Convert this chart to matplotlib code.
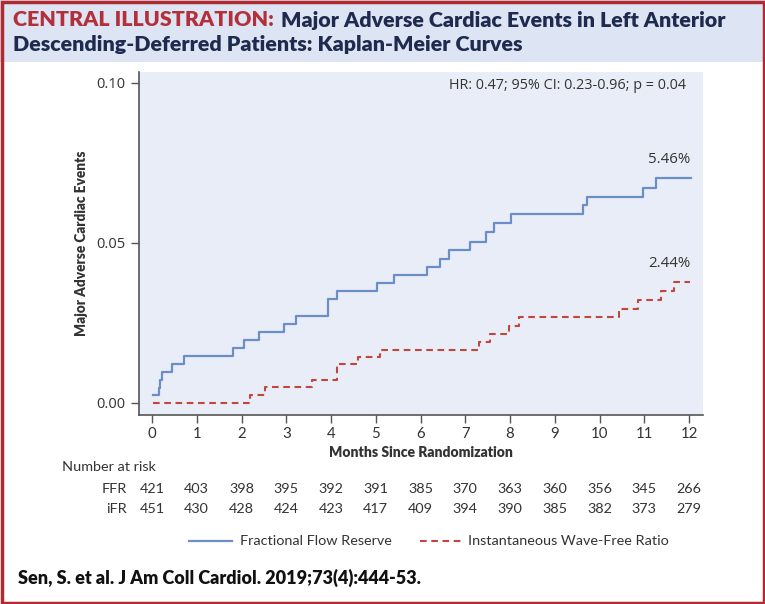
import matplotlib
matplotlib.use("Agg")
import matplotlib.pyplot as plt
from matplotlib.patches import Rectangle
from matplotlib.lines import Line2D
import matplotlib.transforms as mtransforms

plt.rcParams['font.family'] = ['Lato', 'DejaVu Sans']

# step curves (months, cumulative event rate)
ffr_t = [0.03, 0.16, 0.19, 0.22, 0.45, 0.72, 1.80, 2.06, 2.39, 2.95, 3.21, 3.94, 4.13,
         5.02, 5.41, 6.14, 6.44, 6.64, 7.11, 7.46, 7.63, 8.02, 9.62, 9.71, 10.97, 11.26, 12.04]
ffr_v = [0.0025, 0.0046, 0.0072, 0.0098, 0.0122, 0.0147, 0.0173, 0.0197, 0.0222, 0.0247,
         0.0273, 0.0324, 0.0350, 0.0375, 0.0401, 0.0426, 0.0451, 0.0478, 0.0504, 0.0534,
         0.0561, 0.0590, 0.0617, 0.0645, 0.0673, 0.0703, 0.0703]
ifr_t = [0.03, 2.19, 2.53, 3.58, 4.13, 4.60, 5.09, 7.31, 7.55, 7.98, 8.21, 10.44, 10.85,
         11.37, 11.66, 12.02]
ifr_v = [0.0, 0.0025, 0.0049, 0.0072, 0.0122, 0.0145, 0.0165, 0.0191, 0.0217, 0.0242,
         0.0268, 0.0295, 0.0322, 0.0350, 0.0379, 0.0379]

months = list(range(13))
ffr_risk = [421, 403, 398, 395, 392, 391, 385, 370, 363, 360, 356, 345, 266]
ifr_risk = [451, 430, 428, 424, 423, 417, 409, 394, 390, 385, 382, 373, 279]
yticks = [0.00, 0.05, 0.10]

blue = '#6b8ec6'
red = '#c0473d'
navy = '#1e2a4e'
dark = '#333333'
fs = 10.4

W, H = 765, 604
fig = plt.figure(figsize=(W / 100, H / 100), dpi=100)

# frame and title band
fig.patches.append(Rectangle((0, 1 - 62 / H), 1, 62 / H, transform=fig.transFigure,
                             facecolor='#dde4f3', edgecolor='none', zorder=0))
fig.patches.append(Rectangle((1.5 / W, 1.5 / H), 1 - 3 / W, 1 - 3 / H, transform=fig.transFigure,
                             facecolor='none', edgecolor='#b02a30', linewidth=2.5, zorder=5))

tfs = 15.4
t1 = fig.text(13 / W, 1 - 20 / H, 'CENTRAL ILLUSTRATION:', color='#b3303a', fontsize=tfs,
              fontweight='heavy', va='center', ha='left')
fig.canvas.draw()
r = fig.canvas.get_renderer()
bb = t1.get_window_extent(r)
fig.text((bb.x1 + 7) / W, 1 - 20 / H, 'Major Adverse Cardiac Events in Left Anterior',
         color=navy, fontsize=tfs, fontweight='heavy', va='center', ha='left')
fig.text(13 / W, 1 - 44 / H, 'Descending-Deferred Patients: Kaplan-Meier Curves',
         color=navy, fontsize=tfs, fontweight='heavy', va='center', ha='left')

ax = fig.add_axes([139 / W, 1 - 415 / H, 564 / W, 343 / H])
ax.set_facecolor('#e9edf7')
ax.step(ffr_t, ffr_v, where='post', color=blue, lw=1.6)
ax.step(ifr_t, ifr_v, where='post', color=red, lw=1.5, dashes=(3.2, 2.2))

ax.set_xlim(-0.29, 12.31)
ax.set_ylim(-0.00375, 0.1034)
ax.set_xticks(months)
ax.set_yticks(yticks)
ax.set_yticklabels(['%.2f' % v for v in yticks], family='Open Sans', fontsize=10.5, color=dark)
ax.set_xticklabels([str(m) for m in months], fontsize=10.8, color=dark)
ax.spines.top.set(visible=False)
ax.spines.right.set(visible=False)
ax.spines.left.set(color='#555555', lw=1.2)
ax.spines.bottom.set(color='#555555', lw=1.2)
ax.tick_params(length=6, color='#555555', width=1)
ax.tick_params(axis='x', pad=3)
ax.set_xlabel('Months Since Randomization', fontsize=10, fontweight='heavy', color=dark, labelpad=3)
ax.set_ylabel('Major Adverse Cardiac Events', fontsize=9.8, fontweight='heavy', color=dark, labelpad=6)

ax.text(11.93, 0.0993, 'HR: 0.47; 95% CI: 0.23-0.96; p = 0.04', ha='right', va='center',
        family='Open Sans', fontsize=10.4, color=dark)
ax.text(12.02, 0.0737, '5.46%', ha='right', va='bottom', family='Open Sans', fontsize=10.8, color=dark)
ax.text(12.02, 0.0412, '2.44%', ha='right', va='bottom', family='Open Sans', fontsize=10.8, color=dark)

# number at risk table
tr = mtransforms.blended_transform_factory(ax.transData, fig.transFigure)
fig.text(62 / W, 1 - 467 / H, 'Number at risk', fontsize=fs, color=dark, va='center', ha='left')
fig.text(127 / W, 1 - 489 / H, 'FFR', fontsize=fs, color=dark, va='center', ha='right')
fig.text(127 / W, 1 - 509 / H, 'iFR', fontsize=fs, color=dark, va='center', ha='right')
for m, a, b in zip(months, ffr_risk, ifr_risk):
    ax.text(m, 1 - 489 / H, str(a), transform=tr, ha='center', va='center', fontsize=fs, color=dark)
    ax.text(m, 1 - 509 / H, str(b), transform=tr, ha='center', va='center', fontsize=fs, color=dark)

# legend
ly = 1 - 541 / H
fig.lines.append(Line2D([189 / W, 232 / W], [ly, ly], transform=fig.transFigure, color=blue, lw=1.6))
fig.text(240 / W, ly, 'Fractional Flow Reserve', fontsize=fs, color=dark, va='center', ha='left')
fig.lines.append(Line2D([420 / W, 462 / W], [ly, ly], transform=fig.transFigure, color=red, lw=1.5,
                        dashes=(3.2, 2.2)))
fig.text(468 / W, ly, 'Instantaneous Wave-Free Ratio', fontsize=fs, color=dark, va='center', ha='left')

fig.text(18 / W, 1 - 578 / H, 'Sen, S. et al. J Am Coll Cardiol. 2019;73(4):444-53.', fontsize=13,
         fontweight='heavy', color='#111111', va='center', ha='left')

fig.savefig('out.png', dpi=100)
